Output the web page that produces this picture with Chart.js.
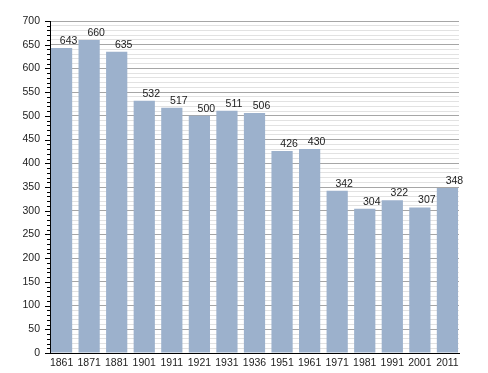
<!DOCTYPE html>
<html><head><meta charset="utf-8">
<script src="https://cdn.jsdelivr.net/npm/chart.js@4/dist/chart.umd.min.js"></script>
<style>html,body{margin:0;padding:0;background:#fff}canvas{display:block}</style>
</head><body>
<canvas id="c" width="488" height="373"></canvas>
<script>
const years = ["1861","1871","1881","1901","1911","1921","1931","1936","1951","1961","1971","1981","1991","2001","2011"];
const population = [643,660,635,532,517,500,511,506,426,430,342,304,322,307,348];
const yTicks = [0,50,100,150,200,250,300,350,400,450,500,550,600,650,700];

const FONT = "'Liberation Sans', Arial, sans-serif";
const valueLabels = {
  id:'valueLabels',
  afterDatasetsDraw(chart){
    const ctx = chart.ctx;
    const meta = chart.getDatasetMeta(0);
    ctx.save();
    ctx.font = "10.5px " + FONT;
    ctx.fillStyle = '#222';
    ctx.textAlign = 'center';
    ctx.textBaseline = 'alphabetic';
    meta.data.forEach((bar,i)=>{
      ctx.fillText(String(population[i]), bar.x + 7, bar.y - 4);
    });
    ctx.restore();
  }
};
const yTickMarks = {
  id:'yTickMarks',
  afterDraw(chart){
    const ctx = chart.ctx, ys = chart.scales.y, left = chart.chartArea.left;
    ctx.save();
    ctx.strokeStyle = '#000';
    ctx.lineWidth = 1;
    for(let v=0; v<=700; v+=10){
      const p = Math.round(ys.getPixelForValue(v)) + 0.5;
      const len = (v%50===0) ? 5 : 3;
      ctx.beginPath(); ctx.moveTo(left-len, p); ctx.lineTo(left, p); ctx.stroke();
    }
    ctx.restore();
  }
};

new Chart(document.getElementById('c'), {
  type:'bar',
  data:{
    datasets:[{
      data: population.map((v,i)=>({x:i,y:v})),
      backgroundColor:'#9cb1cc',
      borderWidth:0,
      barPercentage:0.77,
      categoryPercentage:1
    }]
  },
  options:{
    responsive:false,
    animation:false,
    devicePixelRatio:1,
    layout:{padding:{left:0,right:29,top:21,bottom:0}},
    plugins:{legend:{display:false},tooltip:{enabled:false}},
    scales:{
      x:{
        type:'linear',
        offset:false,
        min:-0.42, max:14.42,
        grid:{display:false, drawTicks:false},
        border:{display:true,color:'#000',width:1},
        afterBuildTicks(s){ s.ticks = years.map((y,i)=>({value:i})); },
        ticks:{
          autoSkip:false, maxRotation:0,
          color:'#222', font:{family:FONT,size:10.5}, padding:4,
          callback:(v)=>years[v]
        },
        afterFit(s){ s.height = 20; }
      },
      y:{
        min:0,max:700,
        afterBuildTicks(s){
          const t=[]; for(let v=0; v<=700; v+=10) t.push({value:v}); s.ticks=t;
        },
        grid:{
          drawTicks:false,
          color:(c)=> (c.tick && c.tick.value%50===0) ? '#a6a6a6' : '#e2e2e2',
          lineWidth:1
        },
        border:{display:true,color:'#000',width:1},
        ticks:{
          autoSkip:false,
          color:'#222', font:{family:FONT,size:10.5}, padding:10,
          callback:(v)=> yTicks.includes(v) ? String(v) : ''
        },
        afterFit(s){ s.width = 50; }
      }
    }
  },
  plugins:[valueLabels,yTickMarks]
});
</script>
</body></html>
